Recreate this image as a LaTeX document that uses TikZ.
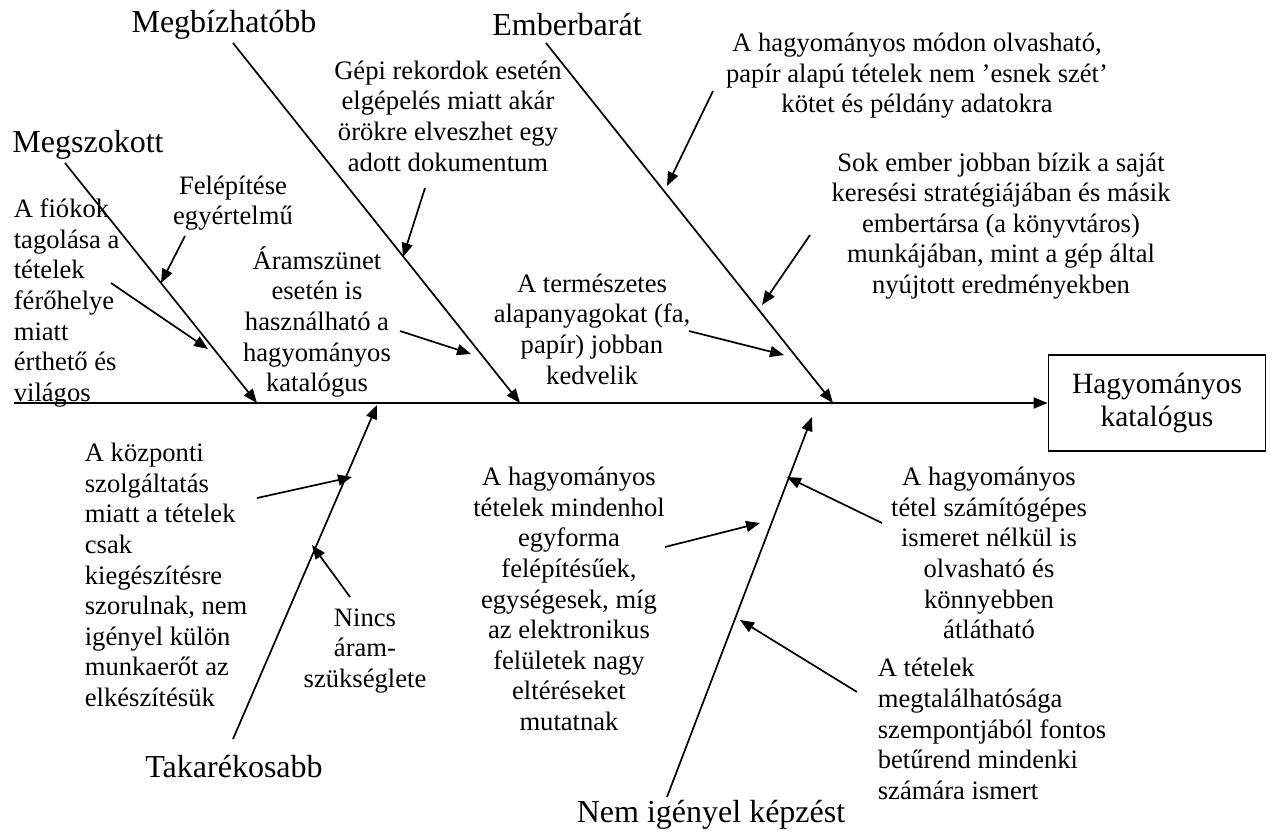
\documentclass[tikz,border=0pt]{standalone}
\usepackage{fontspec}
\setmainfont{Liberation Serif}
\usetikzlibrary{arrows.meta}

\begin{document}
\begin{tikzpicture}[x=0.5pt,y=-0.5pt,>={Triangle[length=7pt,width=5.5pt]},line width=0.85pt,
                cause/.style={inner sep=0pt,align=center,font=\fontsize{13.3}{15.3}\selectfont},
                head/.style={inner sep=0pt,font=\fontsize{16}{19}\selectfont}]
                \useasboundingbox (0,0) rectangle (1273,835);
                % fo agak
                \node[head](megszokott)at(88,145){Megszokott};
                \node[head](megbizhato)at(224,25){Megbízhatóbb};
                \node[head](emberbarat)at(567,25){Emberbarát};
                \node[head](takarekos)at(234,767){Takarékosabb};
                \node[head](kepzes)at(711,815){Nem igényel képzést};
                \node[cause,draw,font=\fontsize{14.7}{16.5}\selectfont,minimum width=108.5pt,minimum height=48pt](kat)at(1157,403){Hagyományos\\katalógus};
                % okok
                \node[cause](felep)at(233,203){Felépítése\\egyértelmű};
                \node[cause,align=left,anchor=west](fiok)at(13,303){A fiókok\\tagolása a\\tételek\\férőhelye\\miatt\\érthető és\\világos};
                \node[cause](gepi)at(448,116){Gépi rekordok esetén\\elgépelés miatt akár\\örökre elveszhet egy\\adott dokumentum};
                \node[cause](aram)at(317,322){Áramszünet\\esetén is\\használható a\\hagyományos\\katalógus};
                \node[cause](papir)at(917,76){A hagyományos módon olvasható,\\papír alapú tételek nem ’esnek szét’\\kötet és példány adatokra};
                \node[cause](sok)at(1001,226){Sok ember jobban bízik a saját\\keresési stratégiájában és másik\\embertársa (a könyvtáros)\\munkájában, mint a gép által\\nyújtott eredményekben};
                \node[cause](termesz)at(592,329){A természetes\\alapanyagokat (fa,\\papír) jobban\\kedvelik};
                \node[cause,align=left,anchor=west](kozp)at(84,575){A központi\\szolgáltatás\\miatt a tételek\\csak\\kiegészítésre\\szorulnak, nem\\igényel külön\\munkaerőt az\\elkészítésük};
                \node[cause](nincs)at(365,651){Nincs\\áram-\\szükséglete};
                \node[cause](egyforma)at(569,599){A hagyományos\\tételek mindenhol\\egyforma\\felépítésűek,\\egységesek, míg\\az elektronikus\\felületek nagy\\eltéréseket\\mutatnak};
                \node[cause](olvas)at(989,553){A hagyományos\\tétel számítógépes\\ismeret nélkül is\\olvasható és\\könnyebben\\átlátható};
                \node[cause,align=left,anchor=west](betu)at(877,729){A tételek\\megtalálhatósága\\szempontjából fontos\\betűrend mindenki\\számára ismert};
                % vegpontok
                \coordinate(s0)at(14,403);
                \coordinate(b1)at(65,163);  \coordinate(t1)at(257,403);
                \coordinate(b2)at(233,43);  \coordinate(t2)at(520,403);
                \coordinate(b3)at(546,43);  \coordinate(t3)at(833,403);
                \coordinate(b4)at(233,739); \coordinate(t4)at(377,405);
                \coordinate(b5)at(667,797); \coordinate(t5)at(812,417);
                \coordinate(a1)at(185,236); \coordinate(e1)at(161,283);
                \coordinate(a2)at(111,283); \coordinate(e2)at(208,349);
                \coordinate(a3)at(425,188); \coordinate(e3)at(403,257);
                \coordinate(a4)at(400,331); \coordinate(e4)at(471,354);
                \coordinate(a5)at(713,91);  \coordinate(e5)at(667,186);
                \coordinate(a6)at(810,235); \coordinate(e6)at(762,305);
                \coordinate(a7)at(689,331); \coordinate(e7)at(784,355);
                \coordinate(a8)at(257,498); \coordinate(e8)at(352,477);
                \coordinate(a9)at(350,597); \coordinate(e9)at(312,545);
                \coordinate(a10)at(665,547); \coordinate(e10)at(760,523);
                \coordinate(a11)at(882,523); \coordinate(e11)at(787,477);
                \coordinate(a12)at(857,692); \coordinate(e12)at(740,620);
                \path[->](s0) edge (kat)
                (b1) edge (t1)
                (b2) edge (t2)
                (b3) edge (t3)
                (b4) edge (t4)
                (b5) edge (t5)
                (a1) edge (e1)
                (a2) edge (e2)
                (a3) edge (e3)
                (a4) edge (e4)
                (a5) edge (e5)
                (a6) edge (e6)
                (a7) edge (e7)
                (a8) edge (e8)
                (a9) edge (e9)
                (a10) edge (e10)
                (a11) edge (e11)
                (a12) edge (e12);
            \end{tikzpicture}
\end{document}
